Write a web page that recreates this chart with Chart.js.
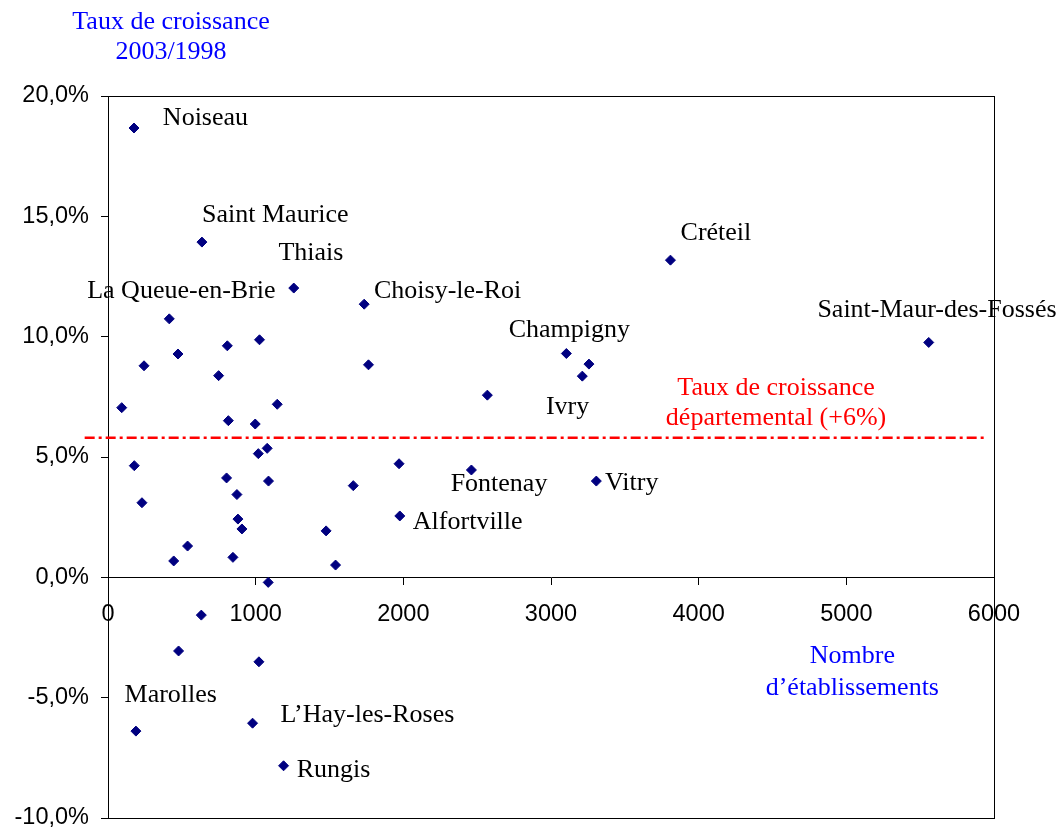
<!DOCTYPE html>
<html><head><meta charset="utf-8">
<script src="https://cdn.jsdelivr.net/npm/chart.js@4/dist/chart.umd.min.js"></script>
<style>html,body{margin:0;padding:0;background:#fff}</style>
</head><body>
<canvas id="c" width="1063" height="829"></canvas>
<script>
// Nombre d'établissements (x) and taux de croissance 2003/1998 in % (y)
const etablissements = [176,636,1258,415,1026,808,474,244,749,93,1146,815,997,1078,1018,178,803,1087,1661,873,230,880,907,1477,539,445,846,1541,1085,632,478,1022,189,979,1189,1735,1764,1971,2461,1976,2569,3104,3257,3212,3307,3809,5558];
const croissance = [18.67,13.93,12.02,10.74,9.87,9.62,9.28,8.79,8.38,7.05,7.19,6.51,6.37,5.36,5.14,4.64,4.13,4.00,3.81,3.44,3.10,2.42,2.01,1.93,1.30,0.68,0.83,0.51,-0.21,-1.57,-3.06,-3.51,-6.39,-6.06,-7.83,11.35,8.83,4.72,4.46,2.55,7.57,9.30,8.86,8.36,4.00,13.18,9.76];

// Commune name labels, placed in data coordinates
const labelNames = ["Noiseau","Saint Maurice","Thiais","La Queue-en-Brie","Choisy-le-Roi","Champigny","Créteil","Saint-Maur-des-Fossés","Ivry","Fontenay","Alfortville","Vitry","Marolles","L\u2019Hay-les-Roses","Rungis"];
const labelX = [660,1133,1374,497,2300,3124,4117,5614,3112,2648,2436,3547,425,1757,1527];
const labelY = [19.09,15.06,13.47,11.88,11.88,10.28,14.30,11.09,7.09,3.88,2.29,3.91,-4.89,-5.73,-8.01];

// Departmental growth rate reference line
const tauxDepartemental = 5.8;
const refLineX = [-158, 5946];
const refText = ["Taux de croissance","départemental (+6%)"];
const refTextX = [4524, 4524];
const refTextY = [7.86, 6.61];

// Axis ticks and titles
const xTicks = [0,1000,2000,3000,4000,5000,6000];
const yTicks = [-10,-5,0,5,10,15,20];
const yTitle = ["Taux de croissance","2003/1998"];
const xTitle = ["Nombre","d\u2019établissements"];

const serif = '"Liberation Serif", "Times New Roman", serif';
const sans = '"Liberation Sans", Arial, sans-serif';

const textPlugin = {
  id: 'texts',
  beforeDatasetsDraw(chart) {
    const {ctx, chartArea: a} = chart;
    ctx.save();
    ctx.strokeStyle = '#000';
    ctx.lineWidth = 1;
    ctx.strokeRect(Math.round(a.left)+0.5, Math.round(a.top)+0.5, Math.round(a.right-a.left), Math.round(a.bottom-a.top));
    ctx.restore();
  },
  afterDraw(chart) {
    const {ctx, chartArea: a} = chart;
    const xs = chart.scales.x, ys = chart.scales.y;
    ctx.save();
    ctx.font = '26px ' + serif;
    ctx.textAlign = 'center';
    ctx.textBaseline = 'middle';
    ctx.fillStyle = '#000';
    labelNames.forEach((n,i) => ctx.fillText(n, xs.getPixelForValue(labelX[i]), ys.getPixelForValue(labelY[i])));
    ctx.fillStyle = '#ff0000';
    refText.forEach((t,i) => ctx.fillText(t, xs.getPixelForValue(refTextX[i]), ys.getPixelForValue(refTextY[i])));
    ctx.fillStyle = '#0000ff';
    ctx.fillText(yTitle[0], a.left + 63, a.top - 74);
    ctx.fillText(yTitle[1], a.left + 63, a.top - 44);
    ctx.fillText(xTitle[0], xs.getPixelForValue(5000)+6, ys.getPixelForValue(0) + 79);
    ctx.fillText(xTitle[1], xs.getPixelForValue(5000)+6, ys.getPixelForValue(0) + 111);
    ctx.restore();
  }
};

new Chart(document.getElementById('c'), {
  type: 'scatter',
  data: {
    datasets: [
      {
        label: 'Communes',
        data: etablissements.map((x,i) => ({x, y: croissance[i]})),
        pointStyle: 'rectRot',
        pointRadius: 5,
        pointHoverRadius: 5,
        backgroundColor: '#000080',
        borderColor: '#000080',
        borderWidth: 1
      },
      {
        label: 'Taux départemental',
        data: refLineX.map(x => ({x, y: tauxDepartemental})),
        showLine: true,
        pointRadius: 0,
        borderColor: '#ff0000',
        borderWidth: 2.7,
        borderDash: [10,4,3,4],
        clip: false
      }
    ]
  },
  options: {
    responsive: false,
    devicePixelRatio: 1,
    animation: false,
    events: [],
    layout: { padding: { left: 0, top: 96, right: 69, bottom: 11 } },
    plugins: { legend: { display: false }, tooltip: { enabled: false } },
    scales: {
      x: {
        type: 'linear',
        position: { y: 0 },
        min: 0, max: 6000,
        afterBuildTicks: s => { s.ticks = xTicks.map(v => ({value: v})); },
        afterFit: s => { s.paddingLeft = 0; s.paddingRight = 0; s.paddingTop = 0; s.paddingBottom = 0; },
        ticks: { color: '#000', font: { family: sans, size: 23.5 }, padding: 16, maxRotation: 0, autoSkip: false,
          callback: v => String(v) },
        grid: { drawOnChartArea: false, drawTicks: true, tickLength: 7, color: '#000', tickColor: '#000' },
        border: { display: true, color: '#000', width: 1 }
      },
      y: {
        type: 'linear',
        position: 'left',
        min: -10, max: 20,
        afterBuildTicks: s => { s.ticks = yTicks.map(v => ({value: v})); },
        afterFit: s => { s.width = 108; s.paddingTop = 0; s.paddingBottom = 0; },
        ticks: { color: '#000', font: { family: sans, size: 23.5 }, padding: 12, autoSkip: false,
          callback: v => v.toFixed(1).replace('.', ',') + '%' },
        grid: { drawOnChartArea: false, drawTicks: true, tickLength: 7, color: '#000', tickColor: '#000' },
        border: { display: true, color: '#000', width: 1 }
      }
    }
  },
  plugins: [textPlugin]
});
</script>
</body></html>
